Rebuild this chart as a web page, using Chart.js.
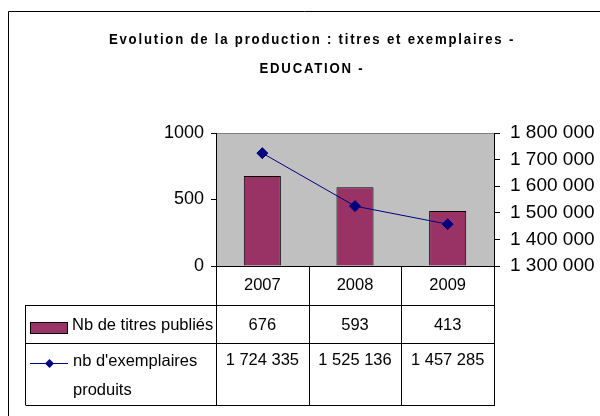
<!DOCTYPE html>
<html>
<head>
<meta charset="utf-8">
<script src="https://cdn.jsdelivr.net/npm/chart.js@4.4.1/dist/chart.umd.min.js"></script>
<style>
  html, body { margin: 0; padding: 0; background: #fff; }
  #wrap { width: 600px; height: 416px; }
</style>
</head>
<body>
<div id="wrap"><canvas id="chart" width="600" height="416"></canvas></div>
<script>
const years = ["2007", "2008", "2009"];
const titres = [676, 593, 413];
const exemplaires = [1724335, 1525136, 1457285];
const titleLines = ["Evolution de la production : titres et exemplaires -", "EDUCATION -"];
const seriesTitres = "Nb de titres publiés";
const seriesExemplaires = ["nb d'exemplaires", "produits"];

const FONT = "'Liberation Sans', Arial, sans-serif";
const BAR_COLOR = "#993366";
const LINE_COLOR = "#000080";

// espace comme séparateur de milliers (format français)
const fmt = (n) => String(n).replace(/\B(?=(\d{3})+(?!\d))/g, " ");

const diamond = (ctx, cx, cy, r) => {
  ctx.beginPath();
  ctx.moveTo(cx, cy - r);
  ctx.lineTo(cx + r, cy);
  ctx.lineTo(cx, cy + r);
  ctx.lineTo(cx - r, cy);
  ctx.closePath();
  ctx.fill();
};

const excelLook = {
  id: "excelLook",
  beforeDraw(chart) {
    const { ctx, chartArea: a } = chart;
    ctx.save();
    ctx.fillStyle = "#c0c0c0";
    ctx.fillRect(a.left, a.top, a.right - a.left, a.bottom - a.top);
    ctx.strokeStyle = "#808080";
    ctx.lineWidth = 1;
    ctx.beginPath();
    ctx.moveTo(a.left, Math.round(a.top) + 0.5);
    ctx.lineTo(a.right, Math.round(a.top) + 0.5);
    ctx.stroke();
    ctx.restore();
  },
  afterDraw(chart) {
    const { ctx, chartArea: a } = chart;
    const x = chart.scales.x;
    ctx.save();

    // cadre extérieur
    ctx.strokeStyle = "#000";
    ctx.lineWidth = 1;
    ctx.beginPath();
    ctx.moveTo(8.5, 416);
    ctx.lineTo(8.5, 11.5);
    ctx.lineTo(600, 11.5);
    ctx.stroke();

    // titre (police étroite et espacée comme dans Excel)
    ctx.fillStyle = "#000";
    ctx.font = "bold 15.5px " + FONT;
    ctx.letterSpacing = "2.1px";
    ctx.textAlign = "center";
    ctx.textBaseline = "alphabetic";
    ctx.save();
    ctx.translate(312, 0);
    ctx.scale(0.85, 1);
    ctx.fillText(titleLines[0], 0, 44);
    ctx.fillText(titleLines[1], 0, 72.5);
    ctx.restore();
    ctx.letterSpacing = "0px";

    // table de données
    const r0 = a.bottom, r1 = r0 + 39, r2 = r1 + 38, r3 = r2 + 62;
    const tLeft = 25.5;
    const step = x.getPixelForValue(1) - x.getPixelForValue(0);
    const edges = [a.left];
    years.forEach((_, i) => edges.push(x.getPixelForValue(i) + step / 2));

    ctx.beginPath();
    [r1, r2, r3].forEach((y) => {
      ctx.moveTo(tLeft, Math.round(y) + 0.5);
      ctx.lineTo(a.right, Math.round(y) + 0.5);
    });
    ctx.moveTo(tLeft, r1);
    ctx.lineTo(tLeft, r3);
    edges.forEach((ex) => {
      ctx.moveTo(Math.round(ex) + 0.5, r0);
      ctx.lineTo(Math.round(ex) + 0.5, r3 + 1);
    });
    ctx.stroke();

    ctx.font = "16.5px " + FONT;
    ctx.textAlign = "center";
    ctx.textBaseline = "middle";
    years.forEach((yr, i) => {
      const cx = x.getPixelForValue(i);
      ctx.fillText(yr, cx, (r0 + r1) / 2);
      ctx.fillText(fmt(titres[i]), cx, (r1 + r2) / 2 + 1);
      ctx.fillText(fmt(exemplaires[i]), cx, r2 + 17);
    });

    // clés de légende
    ctx.fillStyle = BAR_COLOR;
    ctx.fillRect(30.5, r1 + 17.5, 37, 11);
    ctx.strokeRect(30.5, r1 + 17.5, 37, 11);

    ctx.strokeStyle = LINE_COLOR;
    ctx.beginPath();
    ctx.moveTo(30, r2 + 20.5);
    ctx.lineTo(68, r2 + 20.5);
    ctx.stroke();
    ctx.fillStyle = LINE_COLOR;
    diamond(ctx, 49.5, r2 + 20.5, 4.5);

    ctx.fillStyle = "#000";
    ctx.textAlign = "left";
    ctx.fillText(seriesTitres, 72, (r1 + r2) / 2 + 1);
    ctx.fillText(seriesExemplaires[0], 73, r2 + 18);
    ctx.fillText(seriesExemplaires[1], 73, r2 + 47);

    ctx.restore();
  }
};

Chart.defaults.font.family = FONT;
Chart.defaults.color = "#000";

new Chart(document.getElementById("chart"), {
  data: {
    labels: years,
    datasets: [
      {
        type: "line",
        label: seriesExemplaires.join(" "),
        data: exemplaires,
        yAxisID: "y1",
        borderColor: LINE_COLOR,
        borderWidth: 1,
        pointStyle: "rectRot",
        pointRadius: 5.5,
        pointBackgroundColor: LINE_COLOR,
        pointBorderColor: LINE_COLOR,
        tension: 0,
        order: 1
      },
      {
        type: "bar",
        label: seriesTitres,
        data: titres,
        yAxisID: "y",
        backgroundColor: BAR_COLOR,
        borderColor: "#000",
        borderWidth: 1,
        barPercentage: 0.4,
        categoryPercentage: 1,
        order: 2
      }
    ]
  },
  options: {
    responsive: false,
    animation: false,
    devicePixelRatio: 1,
    layout: { padding: { left: 163, right: 0, top: 133, bottom: 150 } },
    plugins: { legend: { display: false }, tooltip: { enabled: false }, title: { display: false } },
    scales: {
      x: {
        offset: true,
        grid: { display: false },
        ticks: { display: false },
        border: { color: "#000", width: 1 },
        afterFit: (s) => { s.height = 0; }
      },
      y: {
        position: "left",
        min: 0,
        max: 1000,
        ticks: { stepSize: 500, font: { size: 18 }, padding: 7, callback: (v) => String(v) },
        grid: { drawOnChartArea: false, tickLength: 5, color: "#000" },
        border: { color: "#000", width: 1 },
        afterFit: (s) => { s.width = 53; }
      },
      y1: {
        position: "right",
        min: 1300000,
        max: 1800000,
        ticks: { stepSize: 100000, font: { size: 19 }, padding: 10, callback: (v) => fmt(v) },
        grid: { drawOnChartArea: false, tickLength: 6, color: "#000" },
        border: { color: "#000", width: 1 },
        afterFit: (s) => { s.width = 106; }
      }
    }
  },
  plugins: [excelLook]
});
</script>
</body>
</html>
